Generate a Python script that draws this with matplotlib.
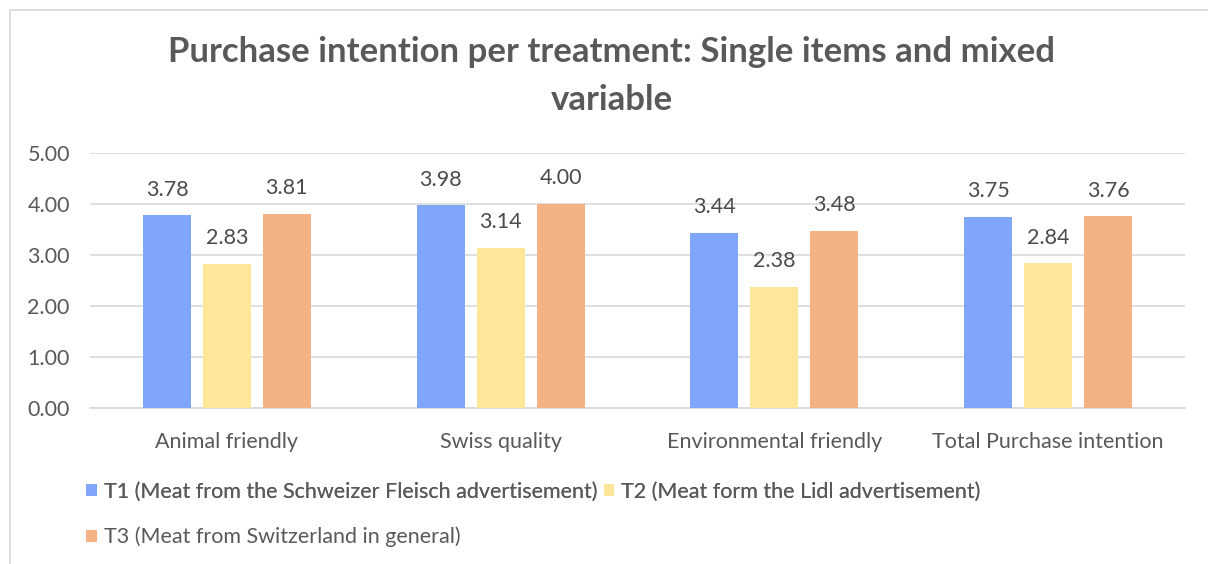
import matplotlib.pyplot as plt
import numpy as np
from matplotlib.patches import Rectangle

categories = ['Animal friendly', 'Swiss quality', 'Environmental friendly', 'Total Purchase intention']
series_names = ['T1 (Meat from the Schweizer Fleisch advertisement)',
                'T2 (Meat form the Lidl advertisement)',
                'T3 (Meat from Switzerland in general)']
t1 = [3.78, 3.98, 3.44, 3.75]
t2 = [2.83, 3.14, 2.38, 2.84]
t3 = [3.81, 4.00, 3.48, 3.76]
colors = ['#7FA6F8', '#FFE699', '#F4B183']

plt.rcParams['font.family'] = ['Lato', 'DejaVu Sans']

fig = plt.figure(figsize=(12.08, 5.64), dpi=100)
ax = fig.add_axes([90/1208, 1-408/564, 1095/1208, 255/564])

# light frame around the chart area
fig.patches.append(Rectangle((10/1208, -0.01), 1.0, 1-10/564+0.01, transform=fig.transFigure,
                             fill=False, edgecolor='#D9D9D9', linewidth=1.2))

x = np.arange(len(categories))
width = 0.175
step = 0.219
for i, (vals, name) in enumerate(zip([t1, t2, t3], series_names)):
    pos = x + (i - 1) * step
    ax.bar(pos, vals, width, color=colors[i], label=name, zorder=3)
    for p, v in zip(pos, vals):
        ax.text(p, v + 0.5, '%.2f' % v, ha='center', va='center', fontsize=15.5, color='#4a4a4a')

ax.set_xlim(-0.5, len(categories) - 0.5)
ax.set_ylim(0, 5)
ax.set_yticks(np.arange(0, 5.01, 1))
ax.set_yticklabels(['%.2f' % t for t in np.arange(0, 5.01, 1)])
ax.set_xticks(x)
ax.set_xticklabels(categories)
ax.tick_params(axis='both', length=0, labelsize=15.5, labelcolor='#595959')
ax.tick_params(axis='y', pad=45)
ax.tick_params(axis='x', pad=17)
for lbl in ax.get_yticklabels():
    lbl.set_horizontalalignment('left')
ax.yaxis.grid(True, color='#D9D9D9', linewidth=1.2, zorder=0)
for s in ['top', 'right', 'left']:
    ax.spines[s].set_visible(False)
ax.spines['bottom'].set_color('#D9D9D9')
ax.spines['bottom'].set_linewidth(1.2)

fig.text(612/1208, 1-52/564, 'Purchase intention per treatment: Single items and mixed',
         ha='center', va='center', fontsize=25, fontweight='bold', color='#595959')
fig.text(612/1208, 1-100/564, 'variable',
         ha='center', va='center', fontsize=25, fontweight='bold', color='#595959')

handles, labels = ax.get_legend_handles_labels()
leg1 = fig.legend(handles[:2], labels[:2], loc='center left', bbox_to_anchor=(67/1208, 1-492/564),
                  ncol=2, frameon=False, fontsize=15.5, handlelength=0.5, handleheight=0.5,
                  handletextpad=0.3, columnspacing=0.3, labelcolor='#595959')
leg2 = fig.legend(handles[2:], labels[2:], loc='center left', bbox_to_anchor=(67/1208, 1-537/564),
                  frameon=False, fontsize=15.5, handlelength=0.5, handleheight=0.5,
                  handletextpad=0.3, labelcolor='#595959')
fig.add_artist(leg1)

fig.savefig('out.png', dpi=100)
